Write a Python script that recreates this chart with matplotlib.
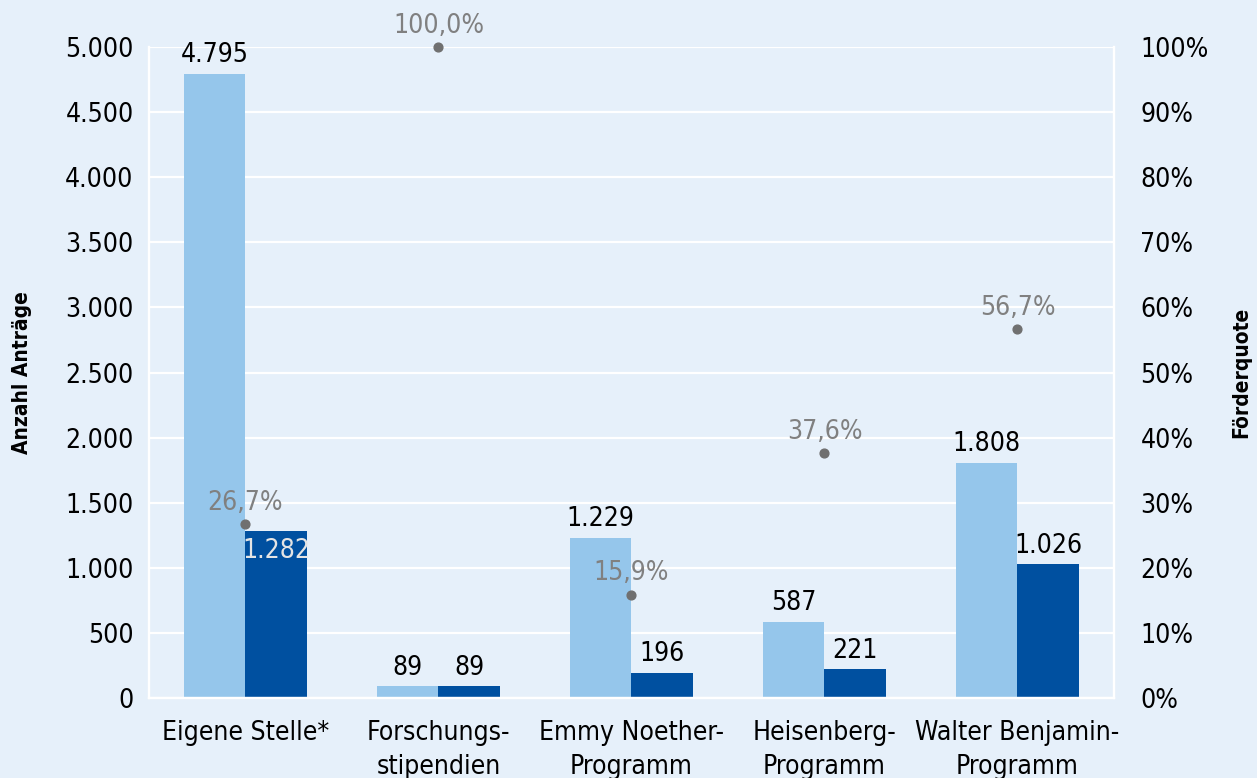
import numpy as np
import matplotlib
matplotlib.use("Agg")
import matplotlib.pyplot as plt
from matplotlib.ticker import FuncFormatter

plt.rcParams['font.family'] = ['DejaVu Sans']
plt.rcParams['font.stretch'] = 'condensed'

categories = ["Eigene Stelle*", "Forschungs-\nstipendien", "Emmy Noether-\nProgramm",
              "Heisenberg-\nProgramm", "Walter Benjamin-\nProgramm"]
antraege = [4795, 89, 1229, 587, 1808]
bewilligt = [1282, 89, 196, 221, 1026]
quote = [26.7, 100.0, 15.9, 37.6, 56.7]

bg = "#e6f0fa"
c_light = "#95c6eb"
c_dark = "#0050a0"
c_dot = "#707070"
fs = 19

fig = plt.figure(figsize=(12.57, 7.78), dpi=100, facecolor=bg)
ax = fig.add_axes([0.1185, 0.1028, 0.7677, 0.8368], facecolor=bg)
ax2 = ax.twinx()

x = np.arange(len(categories))
w = 0.32
b1 = ax.bar(x - w / 2, antraege, w, color=c_light, zorder=2)
b2 = ax.bar(x + w / 2, bewilligt, w, color=c_dark, zorder=2)

fmt = lambda v: f"{v:,.0f}".replace(",", ".")
for rect, v in zip(b1, antraege):
    ax.annotate(fmt(v), (rect.get_x() + rect.get_width() / 2, v), xytext=(0, 4),
                textcoords="offset points", ha="center", va="bottom", fontsize=fs, color="black")
for i, (rect, v) in enumerate(zip(b2, bewilligt)):
    if i == 0:
        ax.annotate(fmt(v), (rect.get_x() + rect.get_width() / 2, v), xytext=(0, -5),
                    textcoords="offset points", ha="center", va="top", fontsize=fs, color="#e4e4e4")
    else:
        ax.annotate(fmt(v), (rect.get_x() + rect.get_width() / 2, v), xytext=(0, 4),
                    textcoords="offset points", ha="center", va="bottom", fontsize=fs, color="black")

ax2.scatter(x, quote, s=40, color=c_dot, zorder=5, clip_on=False)
for xi, q in zip(x, quote):
    ax2.annotate(f"{q:.1f}%".replace(".", ","), (xi, q), xytext=(0, 6), textcoords="offset points",
                 ha="center", va="bottom", fontsize=fs, color="#808080", annotation_clip=False)

ax.set_xlim(-0.5, 4.5)
ax.set_ylim(0, 5000)
ax.set_yticks(np.arange(0, 5001, 500))
ax.yaxis.set_major_formatter(FuncFormatter(lambda v, p: fmt(v)))
ax2.set_ylim(0, 100)
ax2.set_yticks(np.arange(0, 101, 10))
ax2.yaxis.set_major_formatter(FuncFormatter(lambda v, p: f"{v:.0f}%"))

ax.set_xticks(x)
ax.set_xticklabels(categories, fontsize=fs, linespacing=1.4)
ax.tick_params(axis="x", length=0, pad=16)
ax.tick_params(axis="y", length=0, pad=11, labelsize=fs)
ax2.tick_params(axis="y", length=0, pad=19, labelsize=fs)

ax.grid(axis="y", color="white", linewidth=1.6, zorder=0)
ax.set_axisbelow(True)
for a in (ax, ax2):
    a.spines["top"].set_visible(False)
    for s in ("left", "right", "bottom"):
        a.spines[s].set_color("white")
        a.spines[s].set_linewidth(1.6)

ax.set_ylabel("Anzahl Anträge", fontsize=15, fontweight="bold", labelpad=24)
ax2.set_ylabel("Förderquote", fontsize=15, fontweight="bold", labelpad=16)

fig.savefig("out.png", dpi=100, facecolor=bg)
